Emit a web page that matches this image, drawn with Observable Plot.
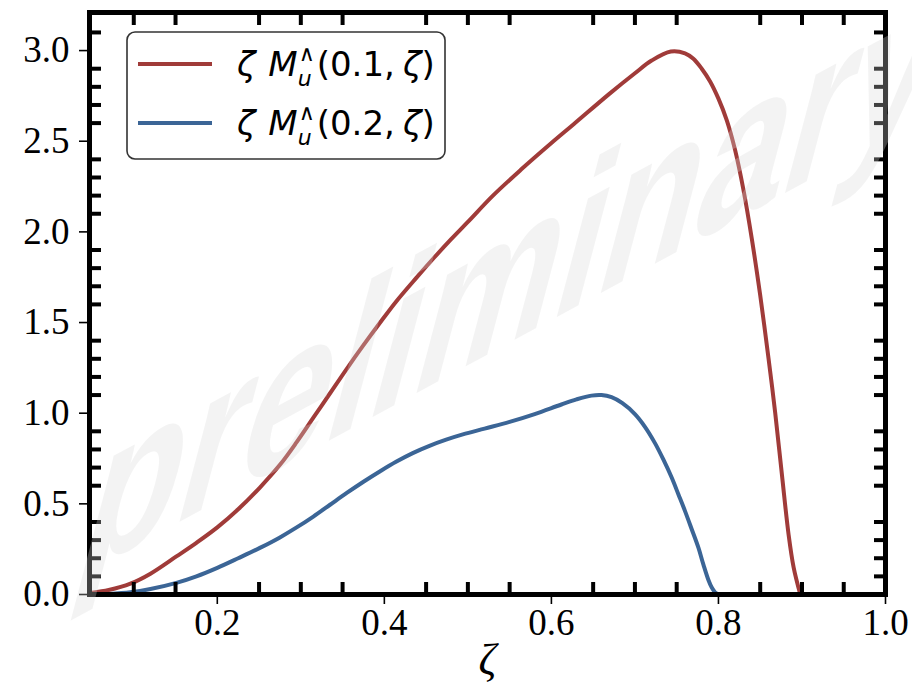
<!DOCTYPE html>
<html>
<head>
<meta charset="utf-8">
<script src="https://cdn.jsdelivr.net/npm/d3@7"></script>
<script src="https://cdn.jsdelivr.net/npm/@observablehq/plot@0.6"></script>
<style>
  html, body { margin: 0; padding: 0; background: #ffffff; }
  #chart svg { display: block; }
</style>
</head>
<body>
<div id="chart"></div>
<script>
// ---- data ----
const zetaA = [0.05, 0.07, 0.096, 0.12, 0.151, 0.175, 0.2, 0.225, 0.251, 0.275, 0.295, 0.315, 0.335, 0.355, 0.375, 0.395, 0.414, 0.438, 0.46, 0.48, 0.5, 0.53, 0.564, 0.6, 0.627, 0.669, 0.7, 0.72, 0.743, 0.76, 0.77, 0.78, 0.79, 0.8, 0.81, 0.82, 0.83, 0.84, 0.85, 0.86, 0.868, 0.876, 0.884, 0.89, 0.898];
const valA  = [0.01, 0.025, 0.06, 0.115, 0.21, 0.285, 0.37, 0.47, 0.59, 0.715, 0.84, 0.975, 1.11, 1.245, 1.375, 1.5, 1.615, 1.745, 1.86, 1.96, 2.055, 2.2, 2.345, 2.49, 2.595, 2.76, 2.875, 2.945, 2.995, 2.985, 2.955, 2.9, 2.83, 2.735, 2.615, 2.45, 2.23, 1.96, 1.65, 1.3, 1.0, 0.66, 0.33, 0.15, 0.0];

const zetaB = [0.05, 0.07, 0.096, 0.12, 0.151, 0.175, 0.2, 0.225, 0.251, 0.275, 0.295, 0.315, 0.335, 0.355, 0.375, 0.395, 0.414, 0.434, 0.454, 0.474, 0.494, 0.52, 0.55, 0.58, 0.612, 0.63, 0.648, 0.66, 0.672, 0.685, 0.7, 0.712, 0.724, 0.734, 0.744, 0.752, 0.76, 0.768, 0.776, 0.782, 0.788, 0.792, 0.796, 0.8];
const valB  = [0.0, 0.003, 0.012, 0.03, 0.064, 0.1, 0.147, 0.2, 0.257, 0.315, 0.37, 0.43, 0.495, 0.56, 0.622, 0.68, 0.732, 0.78, 0.82, 0.854, 0.883, 0.915, 0.952, 0.995, 1.048, 1.076, 1.097, 1.1, 1.088, 1.055, 0.995, 0.925, 0.835, 0.745, 0.645, 0.553, 0.46, 0.36, 0.258, 0.165, 0.08, 0.038, 0.012, 0.0];

const seriesArgs   = ["0.1", "0.2"];
const seriesColors = ["#a03b39", "#3b6596"];

const xMajorTicks = [0.2, 0.4, 0.6, 0.8, 1.0];
const xMinorTicks = [0.1, 0.15, 0.25, 0.3, 0.35, 0.45, 0.5, 0.55, 0.65, 0.7, 0.75, 0.85, 0.9, 0.95];
const yMajorTicks = [0.0, 0.5, 1.0, 1.5, 2.0, 2.5, 3.0];
const yMinorTicks = [0.1, 0.2, 0.3, 0.4, 0.6, 0.7, 0.8, 0.9, 1.1, 1.2, 1.3, 1.4, 1.6, 1.7, 1.8, 1.9, 2.1, 2.2, 2.3, 2.4, 2.6, 2.7, 2.8, 2.9, 3.1];

const xLabel = "ζ";
const watermarkText = "preliminary";

// ---- build table ----
const rowsA = zetaA.map((z, i) => ({ z, v: valA[i] }));
const rowsB = zetaB.map((z, i) => ({ z, v: valB[i] }));

const serif = "'Liberation Serif', 'Times New Roman', serif";
const tickFont = 37;

const plot = Plot.plot({
  width: 912,
  height: 699,
  marginTop: 12,
  marginBottom: 105,
  marginLeft: 89,
  marginRight: 27,
  style: { background: "#ffffff", color: "#000000", fontFamily: serif, overflow: "visible" },
  x: { domain: [0.047, 1.0], label: null },
  y: { domain: [0, 3.21], label: null },
  marks: [
    Plot.line(rowsA, { x: "z", y: "v", stroke: seriesColors[0], strokeWidth: 4, curve: "catmull-rom" }),
    Plot.line(rowsB, { x: "z", y: "v", stroke: seriesColors[1], strokeWidth: 4, curve: "catmull-rom" }),
    Plot.frame({ stroke: "#000000", strokeWidth: 5 }),
    // major ticks (outward) with labels
    Plot.axisX(xMajorTicks, { anchor: "bottom", tickSize: 10, tickPadding: 4, strokeWidth: 1.6, fontSize: tickFont, fontFamily: serif, fill: "#000000", tickFormat: d => d.toFixed(1), label: null }),
    Plot.axisY(yMajorTicks, { anchor: "left", tickSize: 10, tickPadding: 10, strokeWidth: 1.6, fontSize: tickFont, fontFamily: serif, fill: "#000000", tickFormat: d => d.toFixed(1), label: null }),
    // minor ticks (inward) on all four sides
    Plot.axisX(xMinorTicks, { anchor: "bottom", tickSize: 12, dy: -12, strokeWidth: 4, tickFormat: () => "", label: null }),
    Plot.axisX(xMinorTicks, { anchor: "top", tickSize: 12, dy: 12, strokeWidth: 4, tickFormat: () => "", label: null }),
    Plot.axisY(yMinorTicks, { anchor: "left", tickSize: 12, dx: 12, strokeWidth: 4, tickFormat: () => "", label: null }),
    Plot.axisY(yMinorTicks, { anchor: "right", tickSize: 12, dx: -12, strokeWidth: 4, tickFormat: () => "", label: null }),
    // x-axis title
    Plot.text([xLabel], { frameAnchor: "bottom", dy: 79, text: d => d, fontSize: 44, fontStyle: "italic", fontFamily: serif, fill: "#000000" })
  ]
});

document.getElementById("chart").appendChild(plot);

// ---- legend (matplotlib-like box, upper left) ----
const svg = d3.select(plot);
const lg = svg.append("g").attr("class", "legend").attr("text-anchor", "start");
lg.append("rect")
  .attr("x", 127).attr("y", 32).attr("width", 318).attr("height", 127)
  .attr("rx", 8).attr("ry", 8)
  .attr("fill", "#ffffff").attr("stroke", "#333333").attr("stroke-width", 1.6);

const sans = "'DejaVu Sans', sans-serif";
seriesArgs.forEach((arg, i) => {
  const yy = 64 + i * 59;
  lg.append("line")
    .attr("x1", 138).attr("x2", 212).attr("y1", yy).attr("y2", yy)
    .attr("stroke", seriesColors[i]).attr("stroke-width", 4);
  const t = lg.append("text")
    .attr("x", 237).attr("y", yy + 12).attr("text-anchor", "start")
    .attr("font-family", sans).attr("font-size", 34).attr("fill", "#000000");
  t.append("tspan").attr("font-style", "italic").text("ζ");
  t.append("tspan").attr("dx", 2).text(" ");
  t.append("tspan").attr("font-style", "italic").text("M");
  t.append("tspan").attr("font-size", 22).attr("dy", -15).attr("dx", 1).text("∧");
  t.append("tspan").attr("font-size", 22).attr("font-style", "italic").attr("dy", 25).attr("dx", -17).text("u");
  t.append("tspan").attr("dy", -10).attr("dx", 5).text("(" + arg + ",");
  t.append("tspan").attr("font-style", "italic").attr("dx", 8).text("ζ");
  t.append("tspan").text(")");
});

// ---- watermark on top ----
svg.append("text")
  .attr("text-anchor", "start")
  .attr("transform", "translate(72,580) matrix(0.774,-0.42,-0.29,1.1,0,0)")
  .attr("font-family", "'Liberation Sans', Arial, sans-serif")
  .attr("font-weight", "bold")
  .attr("font-size", 204)
  .attr("fill", "#d6d6d6")
  .attr("fill-opacity", 0.3)
  .text(watermarkText);
</script>
</body>
</html>
